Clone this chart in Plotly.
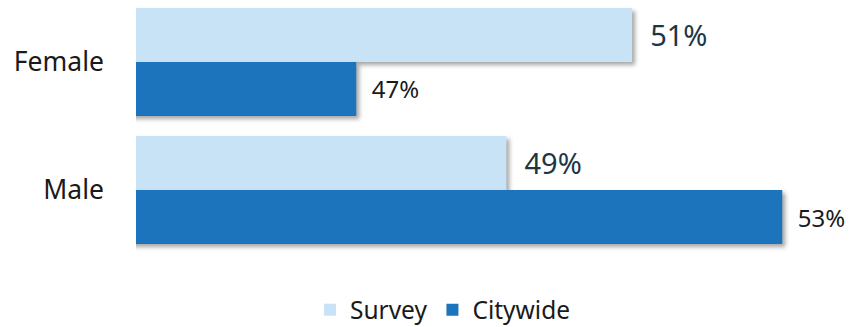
import plotly.graph_objects as go

categories = ["Female", "Male"]
survey = [50.87, 49.13]
citywide = [47.05, 52.95]
series_names = ["Survey", "Citywide"]

FONT = "Noto Sans"
fig = go.Figure()
fig.add_trace(go.Bar(
    y=categories, x=survey, name=series_names[0], orientation="h",
    marker=dict(color="#C8E3F5", line=dict(width=0)),
    text=["  %d%%" % round(v) for v in survey], textposition="outside",
    constraintext="none",
    textfont=dict(size=29, color="#1B3646", family=FONT), cliponaxis=False,
))
fig.add_trace(go.Bar(
    y=categories, x=citywide, name=series_names[1], orientation="h",
    marker=dict(color="#1C75BC", line=dict(width=0)),
    text=["  %d%%" % round(v) for v in citywide], textposition="outside",
    constraintext="none",
    textfont=dict(size=24, color="#1a1a1a", family=FONT), cliponaxis=False,
))

fig.update_layout(
    width=854, height=327,
    margin=dict(l=136, r=14, t=0, b=73, autoexpand=False),
    barmode="group", bargap=0.156, bargroupgap=0,
    plot_bgcolor="white", paper_bgcolor="white",
    font=dict(family=FONT, color="#1a1a1a"),
    showlegend=True,
    legend=dict(orientation="h", x=0.436, xanchor="center", y=-0.22, yanchor="middle",
                font=dict(size=24.5, color="#1a1a1a", family=FONT), traceorder="normal"),
    xaxis=dict(range=[44, 53.75], visible=False, showgrid=False, zeroline=False),
    yaxis=dict(categoryorder="array", categoryarray=categories, range=[1.5, -0.484],
               showgrid=False, zeroline=False, showline=False, ticks="",
               tickfont=dict(size=26.5, color="#1a1a1a", family=FONT), ticklabelstandoff=31),
)

post = ("document.body.style.margin='0';"
        "document.querySelectorAll('.bars .point path').forEach(function(p){"
        "p.style.filter='drop-shadow(3px 3px 2px rgba(0,0,0,0.35))';});")
fig.write_html("out.html", post_script=post, config={"displayModeBar": False})
